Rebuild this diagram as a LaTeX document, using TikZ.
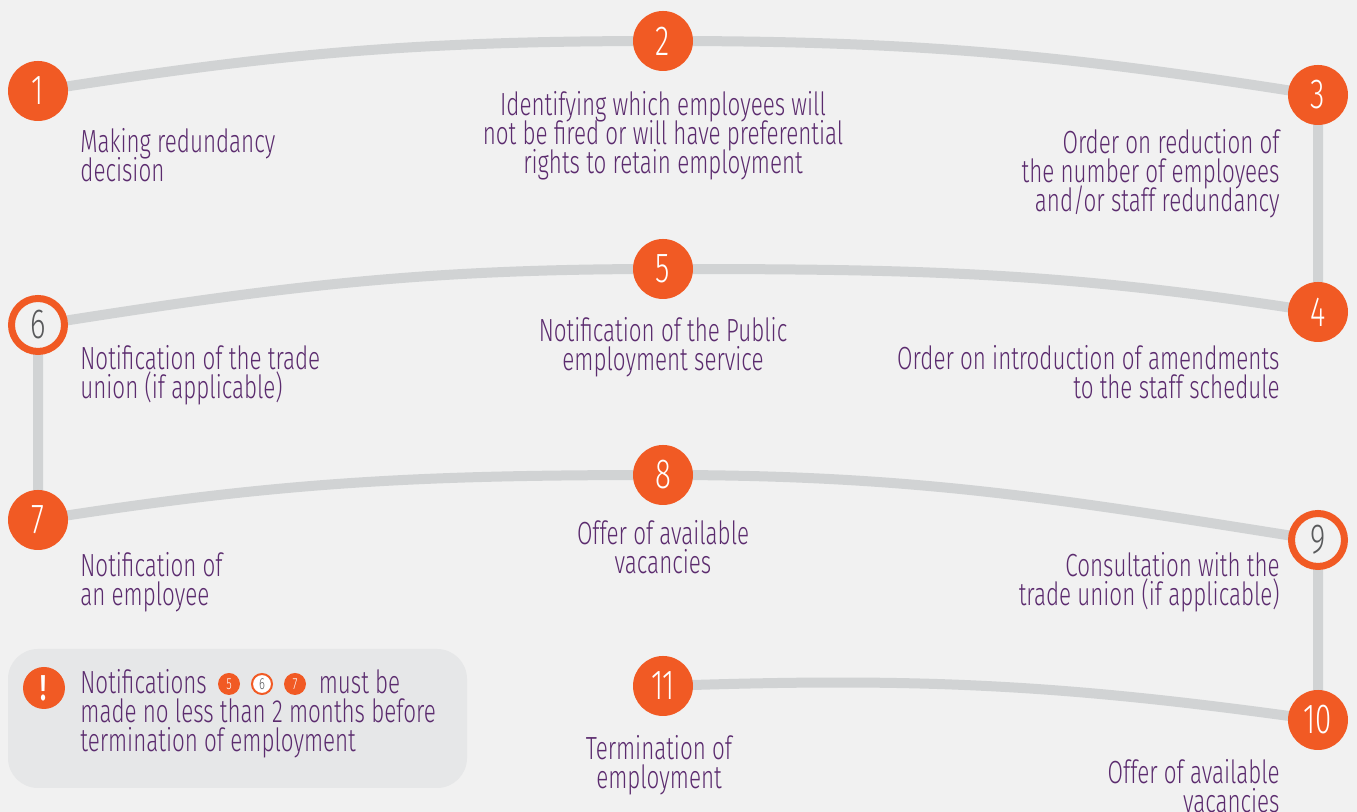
\documentclass[tikz,border=0pt]{standalone}
\usepackage{fontspec}
\setmainfont{Fira Sans Light}[FakeStretch=0.7]
\usetikzlibrary{backgrounds}
\definecolor{rorange}{HTML}{F15A24}
\definecolor{rpurple}{HTML}{5B2B6E}
\definecolor{rtrack}{HTML}{D1D3D4}
\definecolor{rpaper}{HTML}{F1F1F1}
\definecolor{rnote}{HTML}{E6E7E8}
\definecolor{rdigit}{HTML}{58595B}
\newcommand\capfont{\fontsize{16}{14.5}\selectfont\lineskiplimit-20pt\relax}
\tikzset{
 stepdot/.style={circle,fill=rorange,text=white,minimum size=30pt,inner sep=0pt,
  font=\fontsize{21}{21}\selectfont},
 stepring/.style={circle,draw=rorange,line width=3.5pt,fill=rpaper,text=rdigit,
  minimum size=26.5pt,inner sep=0pt,font=\fontsize{21}{21}\selectfont},
 minidot/.style={circle,fill=rorange,text=white,minimum size=11pt,inner sep=0pt,
  font=\fontsize{8}{8}\selectfont},
 minring/.style={circle,draw=rorange,line width=1pt,fill=white,text=rdigit,
  minimum size=10pt,inner sep=0pt,font=\fontsize{8}{8}\selectfont},
 steptext/.style={text=rpurple,inner sep=0pt,font=\capfont},
 track/.style={draw=rtrack,line width=5pt,line cap=round}
}
\begin{document}
\begin{tikzpicture}[x=0.5pt,y=0.5pt]
 \useasboundingbox (0,0) rectangle (1357,812);
 % step circles
 \node[stepdot]  (s1)  at (38,721)   {1};
 \node[stepdot]  (s2)  at (663,771)  {2};
 \node[stepdot]  (s3)  at (1318,717) {3};
 \node[stepdot]  (s4)  at (1318,500) {4};
 \node[stepdot]  (s5)  at (663,543)  {5};
 \node[stepring] (s6)  at (38,487)   {6};
 \node[stepdot]  (s7)  at (38,292)   {7};
 \node[stepdot]  (s8)  at (663,337)  {8};
 \node[stepring] (s9)  at (1318,272) {9};
 \node[stepdot]  (s10) at (1318,92)  {10};
 \node[stepdot]  (s11) at (663,126)  {11};
 % the grey track behind them
 \begin{scope}[on background layer]
  \fill[rpaper] (0,0) rectangle (1357,812);
  \draw[track] (s1.center) to[out=9,in=180] (s2.center) to[out=0,in=171] (s3.center)
   -- (s4.center) to[out=171,in=0] (s5.center) to[out=180,in=9] (s6.center)
   -- (s7.center) to[out=9,in=180] (s8.center) to[out=0,in=171] (s9.center)
   -- (s10.center) to[out=172,in=2] (s11.center);
 \end{scope}
 % captions
 \node[steptext,anchor=north west,align=left] (t1) at (80,684)
  {Making redundancy\\decision};
 \node[steptext,anchor=north,align=center] (t2) at (663,721)
  {Identifying which employees will\\not be fired or will have preferential\\rights to retain employment};
 \node[steptext,anchor=north east,align=right] (t3) at (1280,683)
  {Order on reduction of\\the number of employees\\and/or staff redundancy};
 \node[steptext,anchor=north east,align=right] (t4) at (1280,467)
  {Order on introduction of amendments\\to the staff schedule};
 \node[steptext,anchor=north,align=center] (t5) at (663,495)
  {Notification of the Public\\employment service};
 \node[steptext,anchor=north west,align=left] (t6) at (80,467)
  {Notification of the trade\\union (if applicable)};
 \node[steptext,anchor=north west,align=left] (t7) at (80,260)
  {Notification of\\an employee};
 \node[steptext,anchor=north,align=center] (t8) at (663,292)
  {Offer of available\\vacancies};
 \node[steptext,anchor=north east,align=right] (t9) at (1280,260)
  {Consultation with the\\trade union (if applicable)};
 \node[steptext,anchor=north east,align=right] (t10) at (1280,53)
  {Offer of available\\vacancies};
 \node[steptext,anchor=north,align=center] (t11) at (659,77)
  {Termination of\\employment};
 % deadline note
 \fill[rnote,rounded corners=15pt] (8,24) rectangle (467,163);
 \node[circle,fill=rorange,text=white,minimum size=21pt,inner sep=0pt,
  font=\fontsize{18}{18}\bfseries] (warn) at (44,124) {!};
 \node[steptext,anchor=north west,align=left] (note) at (80,143)
  {Notifications\hspace{56pt}must be\\made no less than 2 months before\\termination of employment};
 \node[minidot] (m5) at (229,128) {5};
 \node[minring] (m6) at (262,128) {6};
 \node[minidot] (m7) at (295,128) {7};
\end{tikzpicture}
\end{document}
